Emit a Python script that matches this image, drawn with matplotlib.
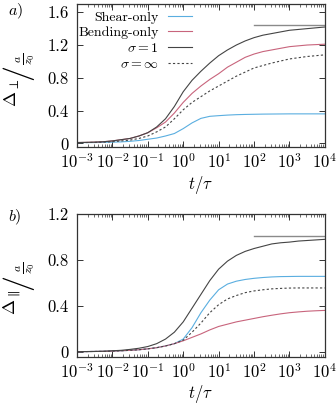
import numpy as np
import matplotlib
matplotlib.use("Agg")
import matplotlib.pyplot as plt
from matplotlib.ticker import LogLocator, FixedLocator, FixedFormatter, NullFormatter

plt.rcParams['font.family'] = 'cmr10'
plt.rcParams['mathtext.fontset'] = 'cm'
plt.rcParams['axes.formatter.use_mathtext'] = True

# t/tau sample points, read at quarter decades
log_t = [-3, -2.75, -2.5, -2.25, -2, -1.75, -1.5, -1.25, -1, -0.75, -0.5, -0.25,
         0, 0.25, 0.5, 0.75, 1, 1.25, 1.5, 1.75, 2, 2.25, 2.5, 2.75, 3, 3.25, 3.5, 3.75, 4]
t = 10.0 ** np.array(log_t)

# panel a) perpendicular
a_shear = [0.01, 0.01, 0.01, 0.012, 0.015, 0.018, 0.025, 0.035, 0.05, 0.065, 0.09, 0.12,
           0.18, 0.25, 0.305, 0.33, 0.338, 0.345, 0.35, 0.353, 0.355, 0.357, 0.358, 0.359,
           0.36, 0.36, 0.36, 0.36, 0.36]
a_bend = [0.01, 0.012, 0.015, 0.02, 0.03, 0.045, 0.06, 0.09, 0.13, 0.19, 0.26, 0.37,
          0.50, 0.61, 0.70, 0.78, 0.85, 0.93, 0.99, 1.05, 1.09, 1.12, 1.14, 1.16,
          1.18, 1.19, 1.20, 1.205, 1.21]
a_sig1 = [0.01, 0.012, 0.015, 0.02, 0.03, 0.045, 0.06, 0.09, 0.13, 0.20, 0.30, 0.45,
          0.63, 0.77, 0.88, 0.98, 1.07, 1.14, 1.20, 1.25, 1.29, 1.32, 1.34, 1.36,
          1.38, 1.39, 1.40, 1.41, 1.42]
a_siginf = [0.01, 0.01, 0.012, 0.015, 0.02, 0.03, 0.04, 0.06, 0.09, 0.14, 0.20, 0.30,
            0.41, 0.50, 0.57, 0.64, 0.70, 0.76, 0.82, 0.87, 0.92, 0.95, 0.98, 1.005,
            1.03, 1.045, 1.06, 1.07, 1.08]
a_limit = 1.45

# panel b) parallel
b_shear = [0.0, 0.001, 0.002, 0.003, 0.005, 0.008, 0.012, 0.017, 0.025, 0.035, 0.05, 0.07,
           0.11, 0.21, 0.34, 0.45, 0.54, 0.59, 0.615, 0.63, 0.64, 0.647, 0.652, 0.655,
           0.656, 0.657, 0.657, 0.657, 0.657]
b_bend = [0.0, 0.001, 0.002, 0.003, 0.005, 0.008, 0.012, 0.017, 0.025, 0.035, 0.05, 0.07,
          0.095, 0.125, 0.155, 0.19, 0.22, 0.24, 0.26, 0.275, 0.29, 0.305, 0.318, 0.33,
          0.34, 0.347, 0.353, 0.357, 0.36]
b_sig1 = [0.0, 0.001, 0.002, 0.004, 0.008, 0.012, 0.02, 0.03, 0.045, 0.07, 0.11, 0.17,
          0.26, 0.38, 0.50, 0.62, 0.72, 0.79, 0.84, 0.875, 0.90, 0.92, 0.94, 0.95,
          0.956, 0.965, 0.97, 0.975, 0.98]
b_siginf = [0.0, 0.001, 0.002, 0.003, 0.005, 0.008, 0.012, 0.017, 0.025, 0.035, 0.05, 0.07,
            0.10, 0.17, 0.25, 0.34, 0.41, 0.46, 0.49, 0.515, 0.53, 0.54, 0.548, 0.552,
            0.555, 0.556, 0.556, 0.556, 0.556]
b_limit = 1.005

limit_t = [1e2, 1e4]
xticks = [1e-3, 1e-2, 1e-1, 1e0, 1e1, 1e2, 1e3, 1e4]
xticklabels = [r'$10^{-3}$', r'$10^{-2}$', r'$10^{-1}$', r'$10^{0}$',
               r'$10^{1}$', r'$10^{2}$', r'$10^{3}$', r'$10^{4}$']
a_yticks = [0, 0.4, 0.8, 1.2, 1.6]
a_yticklabels = ['0', '0.4', '0.8', '1.2', '1.6']
b_yticks = [0, 0.4, 0.8, 1.2]
b_yticklabels = ['0', '0.4', '0.8', '1.2']

c_shear = '#5aaee0'
c_bend = '#c8647c'
c_sig = '#444444'
c_lim = '#8a8a8a'

W, H = 336, 404
fig = plt.figure(figsize=(W / 100, H / 100), dpi=100)
ax1 = fig.add_axes([0.229, 0.636, 0.738, 0.354])
ax2 = fig.add_axes([0.229, 0.117, 0.738, 0.353])


def style(ax, yticks, ylabels, ylim):
    ax.set_xscale('log')
    ax.set_xlim(1e-3, 1e4)
    ax.set_ylim(*ylim)
    ax.xaxis.set_major_locator(FixedLocator(xticks))
    ax.xaxis.set_major_formatter(FixedFormatter(xticklabels))
    ax.xaxis.set_minor_locator(LogLocator(base=10, subs=np.arange(2, 10), numticks=20))
    ax.xaxis.set_minor_formatter(NullFormatter())
    ax.yaxis.set_major_locator(FixedLocator(yticks))
    ax.yaxis.set_major_formatter(FixedFormatter(ylabels))
    ax.tick_params(which='both', direction='in', top=True, right=True,
                   labelsize=12, color='#333333')
    ax.tick_params(which='major', length=4, width=0.7)
    ax.tick_params(which='minor', length=2, width=0.5)
    ax.tick_params(axis='y', pad=6)
    ax.tick_params(axis='x', pad=4)
    for s in ax.spines.values():
        s.set_linewidth(0.9)
        s.set_color('#333333')
    ax.set_xlabel(r'$t/\tau$', fontsize=12)
    ax.xaxis.set_label_coords(0.5, -0.264)
    ax.xaxis.label.set_va('center')


def ylabel(sym, center_y):
    # big slanted slash label, placed in pixels from the top-left corner
    fig.text(12 / W, 1 - (center_y + 17) / H, sym, fontsize=13, rotation=90,
             ha='center', va='center')
    fig.text(17.5 / W, 1 - (center_y - 3) / H, '/', fontsize=23, rotation=90,
             ha='center', va='center')
    fig.text(26 / W, 1 - (center_y - 17) / H, r'$\frac{a}{z_0}$', fontsize=12,
             rotation=90, ha='center', va='center')


lw = 0.8
ax1.plot(t, a_shear, color=c_shear, lw=lw, label='Shear-only')
ax1.plot(t, a_bend, color=c_bend, lw=lw, label='Bending-only')
ax1.plot(t, a_sig1, color=c_sig, lw=lw, label=r'$\sigma = 1$')
ax1.plot(t, a_siginf, color=c_sig, lw=lw, ls=(0, (2, 2)), label=r'$\sigma = \infty$')
ax1.plot(limit_t, [a_limit, a_limit], color=c_lim, lw=1.0)
style(ax1, a_yticks, a_yticklabels, (-0.045, 1.70))
ax1.legend(loc='upper right', bbox_to_anchor=(0.465, 0.951), frameon=False,
           markerfirst=False, fontsize=10, handlelength=1.75, handletextpad=0.65,
           labelspacing=0.2, borderpad=0, borderaxespad=0)

ax2.plot(t, b_shear, color=c_shear, lw=lw)
ax2.plot(t, b_bend, color=c_bend, lw=lw)
ax2.plot(t, b_sig1, color=c_sig, lw=lw)
ax2.plot(t, b_siginf, color=c_sig, lw=lw, ls=(0, (2, 2)))
ax2.plot(limit_t, [b_limit, b_limit], color=c_lim, lw=1.0)
style(ax2, b_yticks, b_yticklabels, (-0.044, 1.20))

ylabel(r'$\Delta_{\perp}$', 75.5)
ylabel(r'$\Delta_{\parallel}$', 285)

fig.text(8 / W, 1 - 11 / H, r'$a)$', fontsize=11.5, va='center', ha='left')
fig.text(8 / W, 1 - 217.5 / H, r'$b)$', fontsize=11.5, va='center', ha='left')

fig.savefig('out.png', dpi=100)
